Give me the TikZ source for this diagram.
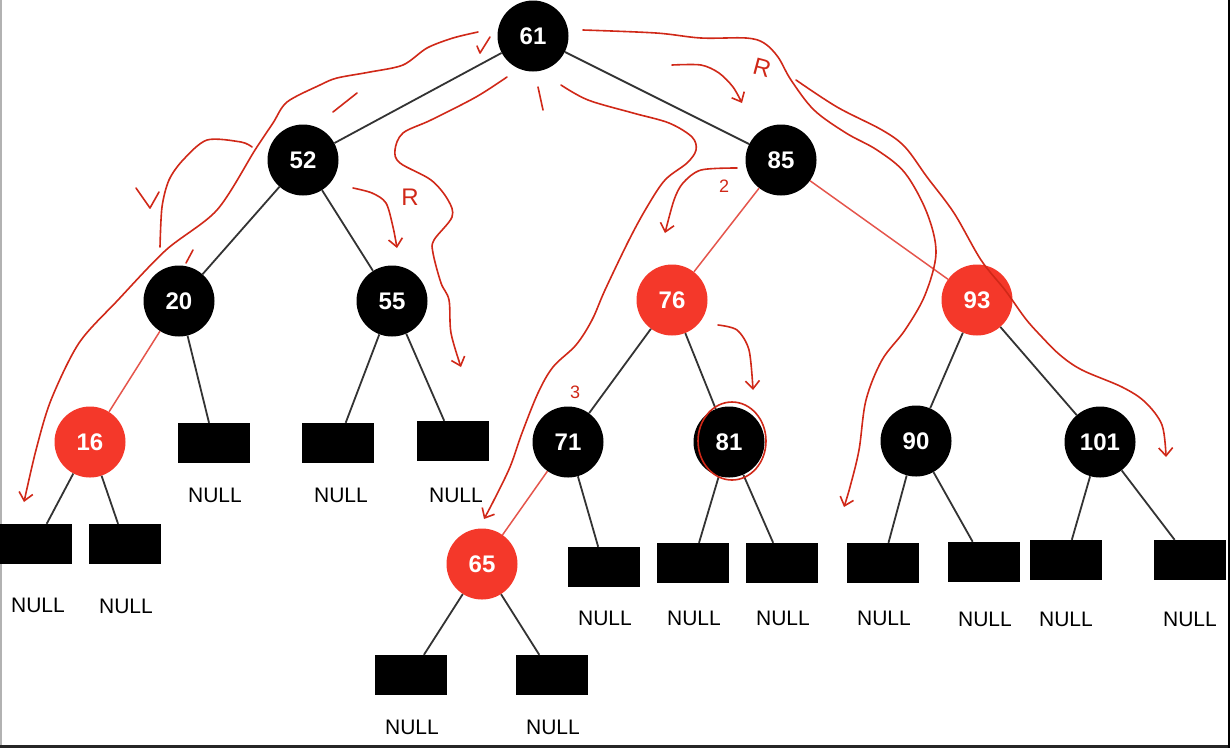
\documentclass[tikz,border=0pt]{standalone}
\usepackage{fontspec}
\setmainfont{Liberation Sans}
\usetikzlibrary{arrows.meta, positioning, calc}
\definecolor{rbred}{HTML}{F4382A}
\definecolor{redge}{HTML}{E5554C}
\definecolor{ink}{HTML}{D02818}
\tikzset{%
   % tree nodes
   bn/.style={
      circle,
      fill=black,
      text=white,
      inner sep=0pt,
      minimum size=71pt,
      font=\fontsize{24}{24}\selectfont\bfseries
   },
   rn/.style={
      bn,
      fill=rbred
   },
   nil/.style={
      rectangle,
      fill=black,
      inner sep=0pt,
      minimum width=72pt,
      minimum height=40pt
   },
   nl/.style={
      inner sep=0pt,
      font=\fontsize{21}{21}\selectfont
   },
   edge/.style={draw=black!80, line width=1.8pt},
   redge/.style={draw=redge, line width=1.5pt},
   % hand-drawn marks
   ink/.style={
      draw=ink,
      line width=1.6pt,
      line cap=round,
      line join=round
   },
   inkarrow/.style={
      ink,
      -{Straight Barb[length=8pt, width=14pt]}
   },
   hand/.style={
      text=ink,
      inner sep=0pt,
      font=\fontsize{24}{24}\selectfont
   },
}

\begin{document}
\begin{tikzpicture}[x=1pt, y=-1pt]
    \useasboundingbox (0,0) rectangle (1230,748);
    \fill[white] (0,0) rectangle (1230,748);
    \draw[black!30, line width=1.5pt] (0.75,0) -- (0.75,748);
    \draw[black!85, line width=3pt] (0,746.5) -- (1230,746.5);
    \draw[black, line width=2.5pt] (1229,0) -- (1229,748);

    \node[bn] (n61) at (533,36) {61};
    \node[bn] (n52) at (303,160) {52};
    \node[bn] (n85) at (781,160) {85};
    \node[bn] (n20) at (179,301) {20};
    \node[bn] (n55) at (392,301) {55};
    \node[rn] (n76) at (672,300) {76};
    \node[rn] (n93) at (977,300) {93};
    \node[rn] (n16) at (90,442) {16};
    \node[bn] (n71) at (568,442) {71};
    \node[bn] (n81) at (729,442) {81};
    \node[bn] (n90) at (916,441) {90};
    \node[bn] (n101) at (1100,442) {101};
    \node[rn] (n65) at (482,564) {65};

    \node[nil] (z16a) at (36,544) {};
    \node[nil] (z16b) at (125,544) {};
    \node[nil] (z20) at (214,443) {};
    \node[nil] (z55a) at (338,443) {};
    \node[nil] (z55b) at (453,441) {};
    \node[nil] (z71) at (604,567) {};
    \node[nil] (z81a) at (693,563) {};
    \node[nil] (z81b) at (782,563) {};
    \node[nil] (z90a) at (883,563) {};
    \node[nil] (z90b) at (984,562) {};
    \node[nil] (z101a) at (1066,560) {};
    \node[nil] (z101b) at (1190,560) {};
    \node[nil] (z65a) at (411,675) {};
    \node[nil] (z65b) at (552,675) {};

    \node[nl] (t16a) at (38,605) {NULL};
    \node[nl] (t16b) at (126,606) {NULL};
    \node[nl] (t20) at (215,495) {NULL};
    \node[nl] (t55a) at (341,495) {NULL};
    \node[nl] (t55b) at (456,495) {NULL};
    \node[nl] (t71) at (605,618) {NULL};
    \node[nl] (t81a) at (694,618) {NULL};
    \node[nl] (t81b) at (783,618) {NULL};
    \node[nl] (t90a) at (884,618) {NULL};
    \node[nl] (t90b) at (985,619) {NULL};
    \node[nl] (t101a) at (1066,619) {NULL};
    \node[nl] (t101b) at (1190,619) {NULL};
    \node[nl] (t65a) at (412,727) {NULL};
    \node[nl] (t65b) at (553,727) {NULL};

    \draw[edge] (n61) -- (n52);
    \draw[edge] (n61) -- (n85);
    \draw[edge] (n52) -- (n20);
    \draw[edge] (n52) -- (n55);
    \draw[redge] (n85) -- (n76);
    \draw[redge] (n85) -- (n93);
    \draw[redge] (n20) -- (n16);
    \draw[edge] (n20) -- (z20);
    \draw[edge] (n55) -- (z55a);
    \draw[edge] (n55) -- (z55b);
    \draw[edge] (n16) -- (z16a);
    \draw[edge] (n16) -- (z16b);
    \draw[edge] (n76) -- (n71);
    \draw[edge] (n76) -- (n81);
    \draw[edge] (n93) -- (n90);
    \draw[edge] (n93) -- (n101);
    \draw[redge] (n71) -- (n65);
    \draw[edge] (n71) -- (z71);
    \draw[edge] (n81) -- (z81a);
    \draw[edge] (n81) -- (z81b);
    \draw[edge] (n90) -- (z90a);
    \draw[edge] (n90) -- (z90b);
    \draw[edge] (n101) -- (z101a);
    \draw[edge] (n101) -- (z101b);
    \draw[edge] (n65) -- (z65a);
    \draw[edge] (n65) -- (z65b);

    % red pen strokes
    \draw[inkarrow] plot[smooth, tension=.5] coordinates {(478,32) (453,38) (427,48) (403,65) (370,72) (337,78) (320,85) (287,102) (273,123) (255,150) (217,210) (166,250) (118,300) (79,343) (51,400) (36,450) (24,502)};
    \draw[ink] plot[smooth] coordinates {(252,147) (241,142) (207,140) (183,160) (169,180) (162,207) (160,247)};
    \draw[ink] (136,188) -- (150,208) -- (159,192);
    \draw[ink] (333,112) -- (357,93);
    \draw[ink] (193,250) -- (186,263);
    \draw[ink] (477,46) -- (480,53) -- (490,37);
    \draw[inkarrow] plot[smooth, tension=.55] coordinates {(507,77) (476,97) (431,120) (403,133) (395,150) (400,163) (431,180) (448,200) (452,217) (434,240) (433,253) (441,283) (449,300) (451,333) (461,367)};
    \draw[inkarrow] plot[smooth] coordinates {(353,188) (372,193) (386,203) (393,227) (397,248)};
    \node[hand] (hr1) at (410,197) {R};
    \draw[inkarrow] plot[smooth, tension=.55] coordinates {(583,30) (656,33) (701,38) (746,38) (764,43) (778,57) (791,80) (814,110) (846,133) (877,150) (905,173) (927,213) (936,253) (925,295) (905,330) (882,360) (866,400) (859,450) (850,487) (844,507)};
    \draw[inkarrow] plot[smooth, tension=.55] coordinates {(796,80) (837,107) (882,130) (905,147) (927,177) (954,213) (981,260) (1005,290) (1025,318) (1040,335) (1060,355) (1082,370) (1122,387) (1145,402) (1162,425) (1166,457)};
    \draw[inkarrow] plot[smooth] coordinates {(672,65) (701,65) (719,73) (733,87) (742,103)};
    \node[hand, rotate=-15] (hr2) at (762,68) {R};
    \draw[ink] (538,87) -- (543,110);
    \draw[inkarrow] plot[smooth, tension=.55] coordinates {(561,85) (588,100) (633,113) (669,123) (692,137) (696,150) (687,163) (665,180) (647,207) (629,240) (605,290) (592,320) (576,345) (553,367) (538,393) (522,433) (510,467) (494,500) (484,519)};
    \node[hand, font=\fontsize{18}{18}\selectfont] (h2) at (724,186) {2};
    \draw[inkarrow] plot[smooth] coordinates {(737,168) (701,170) (683,183) (674,200) (665,233)};
    \node[hand, font=\fontsize{18}{18}\selectfont] (h3) at (575,392) {3};
    \draw[inkarrow] plot[smooth] coordinates {(718,325) (737,330) (749,350) (753,390)};
    \draw[ink] (732,441) ellipse [x radius=34, y radius=39];
\end{tikzpicture}
\end{document}
